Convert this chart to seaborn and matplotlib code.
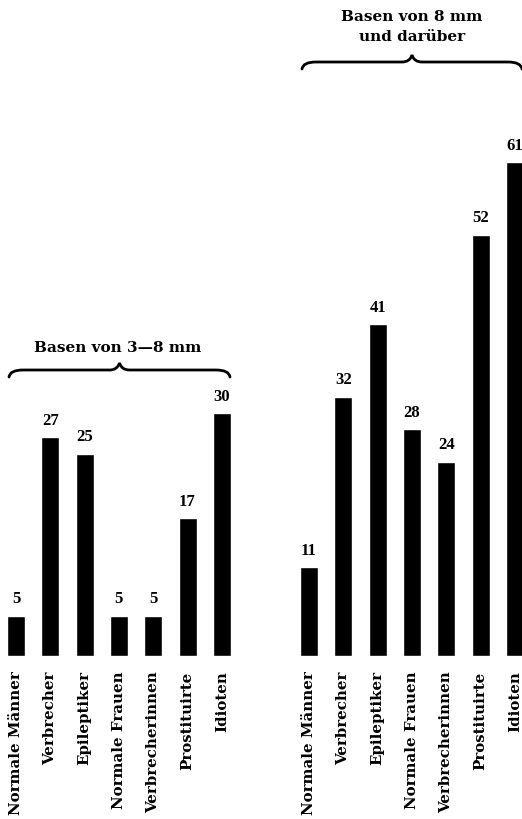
"""Bar chart: frequency by group for two base-width classes (old print style)."""
import matplotlib
matplotlib.use("Agg")
import matplotlib.pyplot as plt
from matplotlib.path import Path
from matplotlib.patches import PathPatch
import pandas as pd
import seaborn as sns

sns.set_style("white")
plt.rcParams["font.family"] = ["DejaVu Serif"]
plt.rcParams["font.weight"] = "bold"
plt.rcParams["text.color"] = "black"
plt.rcParams["xtick.color"] = "black"

categories = ["Normale Männer", "Verbrecher", "Epileptiker", "Normale Frauen",
              "Verbrecherinnen", "Prostituirte", "Idioten"]
small_bases = [5, 27, 25, 5, 5, 17, 30]      # Basen von 3-8 mm
large_bases = [11, 32, 41, 28, 24, 52, 61]   # Basen von 8 mm und darüber
group_titles = ["Basen von 3—8 mm", "Basen von 8 mm\nund darüber"]

W, H = 522, 819
PX_PER_UNIT = 8.1
STEP = 34.3          # px between bar centres
BOTTOM = 656         # px, bar baseline

fig = plt.figure(figsize=(W / 100, H / 100), dpi=100)


def px_ax(x0, x1):
    return fig.add_axes([x0 / W, (H - BOTTOM) / H, (x1 - x0) / W, BOTTOM / H])


def draw_bars(ax, values, first_center, x0, x1):
    df = pd.DataFrame({"group": categories, "n": values})
    sns.barplot(data=df, x="group", y="n", color="black", width=18 / STEP,
                saturation=1, ax=ax, order=categories)
    ax.bar_label(ax.containers[0], padding=6, fontsize=12, fontweight="bold",
                 family="Liberation Serif")
    ax.set_xlim((x0 - first_center) / STEP, (x1 - first_center) / STEP)
    ax.set_ylim(0, BOTTOM / PX_PER_UNIT)
    ax.set_xlabel(""); ax.set_ylabel("")
    ax.set_yticks([])
    ax.tick_params(axis="x", length=0, pad=11)
    for lbl in ax.get_xticklabels():
        lbl.set_rotation(90)
        lbl.set_fontsize(10.8)
        lbl.set_fontweight("bold")
    sns.despine(ax=ax, left=True, bottom=True)


def brace(x0, x1, y, h=7):
    # curly brace in pixel coords (y downward), tip pointing up
    xm = (x0 + x1) / 2
    pts = [(x0, y + h), (x0 + 1, y), (x0 + 14, y),
           (xm - 10, y), (xm - 2, y), (xm, y - h),
           (xm + 2, y), (xm + 10, y),
           (x1 - 14, y), (x1 - 1, y), (x1, y + h)]
    codes = [Path.MOVETO, Path.CURVE3, Path.CURVE3,
             Path.LINETO, Path.CURVE3, Path.CURVE3,
             Path.CURVE3, Path.CURVE3,
             Path.LINETO, Path.CURVE3, Path.CURVE3]
    verts = [(px / W, 1 - py / H) for px, py in pts]
    fig.patches.append(PathPatch(Path(verts, codes), transform=fig.transFigure,
                                 fill=False, lw=2, color="black",
                                 capstyle="round"))


ax_l = px_ax(0, 240)
draw_bars(ax_l, small_bases, 16, 0, 240)
ax_r = px_ax(292, 522)
draw_bars(ax_r, large_bases, 309, 292, 522)

brace(9, 230, 370)
fig.text(118 / W, 1 - 348 / H, group_titles[0], ha="center", va="center",
         fontsize=11, fontweight="bold")
brace(302, 522, 62)
fig.text(412 / W, 1 - 27 / H, group_titles[1], ha="center", va="center",
         fontsize=11, fontweight="bold", linespacing=1.5)

fig.savefig("out.png", dpi=100)
